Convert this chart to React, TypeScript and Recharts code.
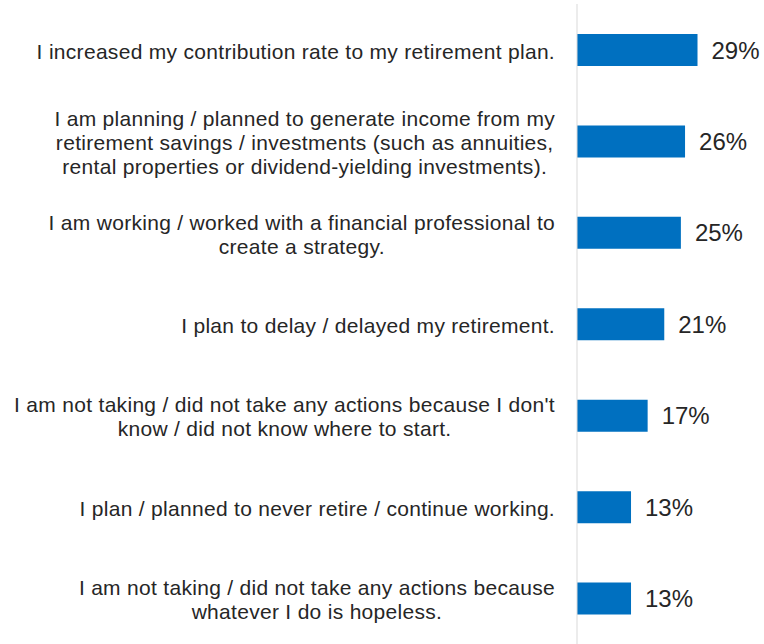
import React from "react";
import { BarChart, Bar, XAxis, YAxis, LabelList } from "recharts";

// survey answers, line breaks as in the original slide
const categories = [
  "I increased my contribution rate to my retirement plan.",
  "I am planning / planned to generate income from my\nretirement savings / investments (such as annuities,\nrental properties or dividend-yielding investments).",
  "I am working / worked with a financial professional to\ncreate a strategy.",
  "I plan to delay / delayed my retirement.",
  "I am not taking / did not take any actions because I don't\nknow / did not know where to start.",
  "I plan / planned to never retire / continue working.",
  "I am not taking / did not take any actions because\nwhatever I do is hopeless.",
];
const shares = [29, 26, 25, 21, 17, 13, 13];

const data = categories.map((label, i) => ({ label, value: shares[i] }));

const FONT = "'Liberation Sans', Arial, sans-serif";
const LABEL_SIZE = 21;
const SPACING = 0.3;
const LINE_H = 24;

let ctx: CanvasRenderingContext2D | null = null;
const measure = (s: string) => {
  if (!ctx) {
    ctx = document.createElement("canvas").getContext("2d");
  }
  if (!ctx) return s.length * LABEL_SIZE * 0.5;
  ctx.font = `${LABEL_SIZE}px "Liberation Sans"`;
  return ctx.measureText(s).width + s.length * SPACING;
};

// block is right aligned, lines inside it are centred (like Excel)
const CategoryTick = (props: any) => {
  const { x, y, payload } = props;
  const lines: string[] = String(payload.value).split("\n");
  const maxW = Math.max(...lines.map(measure));
  const right = x - 2;
  const cx = right - maxW / 2;
  const startY = y + 1 - ((lines.length - 1) * LINE_H) / 2;
  return (
    <text
      textAnchor="middle"
      fontFamily={FONT}
      fontSize={LABEL_SIZE}
      letterSpacing={SPACING}
      fill="#262626"
      dominantBaseline="central"
    >
      {lines.map((l, i) => (
        <tspan key={i} x={cx} y={startY + i * LINE_H}>
          {l}
        </tspan>
      ))}
    </text>
  );
};

export default function App() {
  return (
    <div style={{ position: "absolute", left: 0, top: 0, background: "#fff" }}>
      <BarChart
        width={764}
        height={644}
        data={data}
        layout="vertical"
        margin={{ top: 4, right: 0, bottom: 0, left: 0 }}
        barSize={32}
      >
        <XAxis type="number" domain={[0, 45]} hide />
        <YAxis
          type="category"
          dataKey="label"
          width={577}
          axisLine={{ stroke: "#d9d9d9", strokeWidth: 1 }}
          tickLine={false}
          tickMargin={14}
          interval={0}
          tick={<CategoryTick />}
        />
        <Bar dataKey="value" fill="#0070C0" isAnimationActive={false}>
          <LabelList
            dataKey="value"
            position="right"
            offset={14}
            formatter={(v: any) => `${v}%`}
            style={{ fontFamily: FONT, fontSize: 24, fill: "#262626" }}
          />
        </Bar>
      </BarChart>
    </div>
  );
}
